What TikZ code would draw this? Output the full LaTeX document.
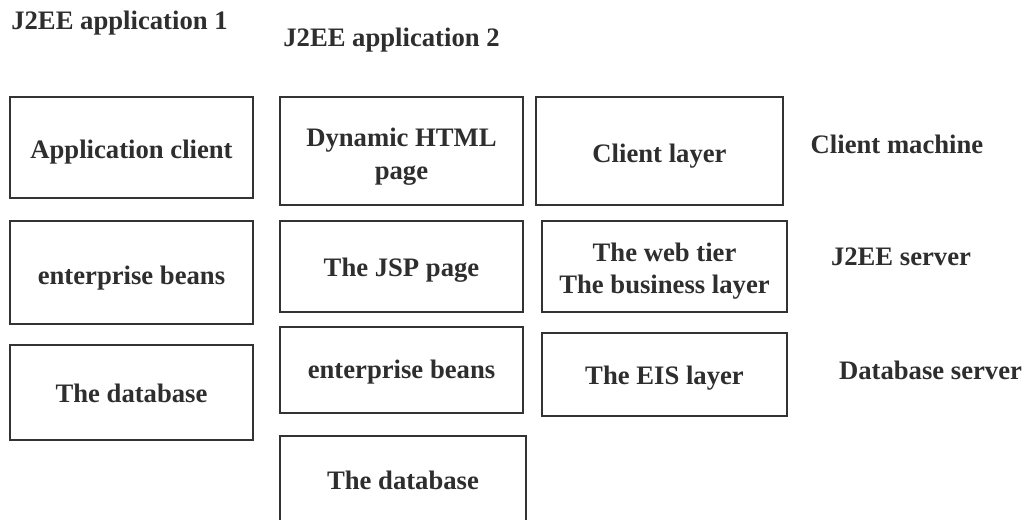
\documentclass[tikz,border=0pt]{standalone}
\usepackage{fontspec}
\setmainfont{Liberation Serif}
\begin{document}
\begin{tikzpicture}[x=0.75pt,y=-0.75pt,
  txt/.style={font=\fontsize{20}{24}\selectfont\bfseries, text=black!82, inner sep=0pt, anchor=base},
  bx/.style 2 args={draw=black!80, line width=1.5pt, inner sep=0pt, minimum width=#1*0.75pt, minimum height=#2*0.75pt}]
\useasboundingbox[fill=white] (0,0) rectangle (1027,519);
% boxes
\node[bx={243}{101}] (ac) at (131.5,147.5) {};
\node[bx={243}{103}] (eb1) at (131.5,272.5) {};
\node[bx={243}{95}] (db1) at (131.5,392.5) {};
\node[bx={243}{108}] (dh) at (401.5,151) {};
\node[bx={243}{91}] (jsp) at (401.5,266.5) {};
\node[bx={243}{86}] (eb2) at (401.5,370) {};
\node[bx={246}{90}] (db2) at (403,481) {};
\node[bx={247}{108}] (cl) at (659.5,151) {};
\node[bx={245}{91}] (wt) at (664.5,266.5) {};
\node[bx={245}{83}] (eis) at (664.5,374.5) {};
% texts in boxes
\node[txt] (act) at (131.5,158) {Application client};
\node[txt] (eb1t) at (131.5,284) {enterprise beans};
\node[txt] (db1t) at (131.5,402) {The database};
\node[txt] (dht1) at (401.5,146) {Dynamic HTML};
\node[txt] (dht2) at (401.5,179) {page};
\node[txt] (jspt) at (401.5,276.5) {The JSP page};
\node[txt] (eb2t) at (401.5,378) {enterprise beans};
\node[txt] (db2t) at (403,489) {The database};
\node[txt] (clt) at (659.5,162) {Client layer};
\node[txt] (wtt1) at (664.5,261) {The web tier};
\node[txt] (wtt2) at (664.5,293) {The business layer};
\node[txt] (eist) at (664.5,384.5) {The EIS layer};
% free labels
\node[txt] (app1) at (119.5,29) {J2EE application 1};
\node[txt] (app2) at (391.5,46) {J2EE application 2};
\node[txt] (cm) at (897,153) {Client machine};
\node[txt] (js) at (901,265) {J2EE server};
\node[txt] (ds) at (930.5,379) {Database server};
\end{tikzpicture}
\end{document}
